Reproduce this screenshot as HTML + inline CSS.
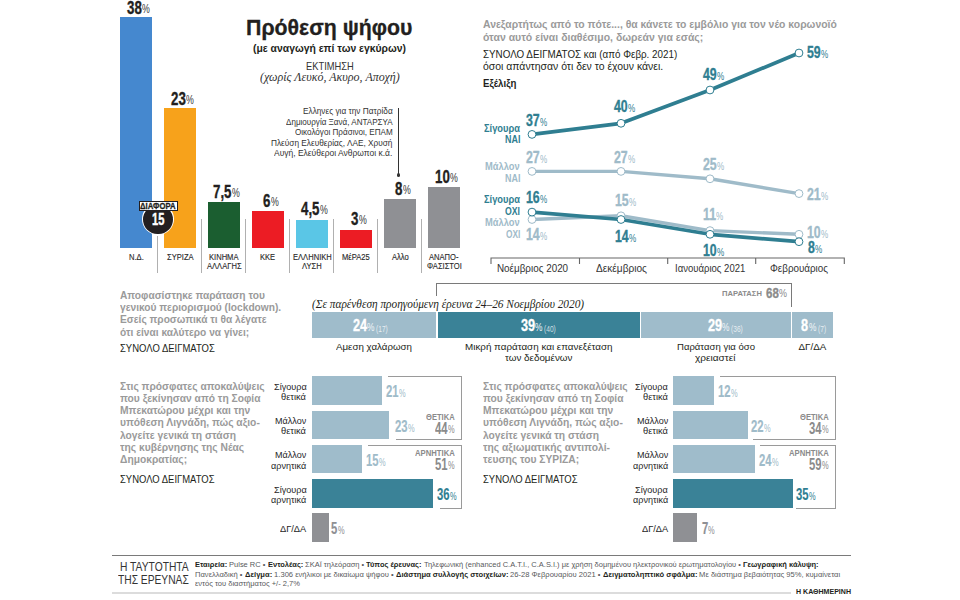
<!DOCTYPE html>
<html><head><meta charset="utf-8"><style>
html,body{margin:0;padding:0;background:#fff;}
body{width:960px;height:600px;position:relative;overflow:hidden;font-family:"Liberation Sans",sans-serif;}
.t{position:absolute;white-space:pre;transform-origin:0 0;}
.r{position:absolute;}
</style></head><body>
<div class="r" style="left:120.00px;top:17.14px;width:32.00px;height:230.66px;background:#4588cf;"></div>
<div class="r" style="left:157.30px;top:235.50px;width:1.20px;height:37.20px;background:#b0b0b0;"></div>
<div class="r" style="left:164.00px;top:108.19px;width:32.00px;height:139.61px;background:#f7a21b;"></div>
<div class="r" style="left:201.30px;top:219.00px;width:1.20px;height:53.70px;background:#b0b0b0;"></div>
<div class="r" style="left:208.00px;top:202.28px;width:32.00px;height:45.53px;background:#1b5e30;"></div>
<div class="r" style="left:245.30px;top:219.00px;width:1.20px;height:53.70px;background:#b0b0b0;"></div>
<div class="r" style="left:252.00px;top:211.38px;width:32.00px;height:36.42px;background:#ec1c24;"></div>
<div class="r" style="left:289.30px;top:219.00px;width:1.20px;height:53.70px;background:#b0b0b0;"></div>
<div class="r" style="left:296.00px;top:220.49px;width:32.00px;height:27.32px;background:#5ac6e6;"></div>
<div class="r" style="left:333.30px;top:219.00px;width:1.20px;height:53.70px;background:#b0b0b0;"></div>
<div class="r" style="left:340.00px;top:229.59px;width:32.00px;height:18.21px;background:#ec1c24;"></div>
<div class="r" style="left:377.30px;top:219.00px;width:1.20px;height:53.70px;background:#b0b0b0;"></div>
<div class="r" style="left:384.00px;top:199.24px;width:32.00px;height:48.56px;background:#8f9094;"></div>
<div class="r" style="left:421.30px;top:219.00px;width:1.20px;height:53.70px;background:#b0b0b0;"></div>
<div class="r" style="left:428.00px;top:187.10px;width:32.00px;height:60.70px;background:#8f9094;"></div>
<div class="r" style="left:142px;top:203.1px;width:32px;height:32px;border-radius:50%;background:#fff"></div>
<div class="r" style="left:143.4px;top:204.5px;width:29.2px;height:29.2px;border-radius:50%;background:#231f20"></div>
<div class="r" style="left:138.6px;top:201.2px;width:39.1px;height:10.1px;background:#fff;box-sizing:border-box;border:1px solid #231f20"></div>
<div class="r" style="left:398.00px;top:108.20px;width:1.00px;height:67.00px;background:#333;"></div>
<div class="r" style="left:396.6px;top:173.4px;width:3.8px;height:3.8px;border-radius:50%;background:#333"></div>
<svg class="r" style="left:0;top:0" width="960" height="600" viewBox="0 0 960 600"><polyline points="532.0,171.40 621.0,171.40 710.0,178.80 799.0,193.60" fill="none" stroke="#9fbbc9" stroke-width="3.4" stroke-linejoin="round"/><circle cx="532.0" cy="171.40" r="3.9" fill="#fff" stroke="#9fbbc9" stroke-width="1"/><circle cx="621.0" cy="171.40" r="3.9" fill="#fff" stroke="#9fbbc9" stroke-width="1"/><circle cx="710.0" cy="178.80" r="3.9" fill="#fff" stroke="#9fbbc9" stroke-width="1"/><circle cx="799.0" cy="193.60" r="3.9" fill="#fff" stroke="#9fbbc9" stroke-width="1"/><polyline points="532.0,219.50 621.0,215.80 710.0,230.60 799.0,234.30" fill="none" stroke="#9fbbc9" stroke-width="3.4" stroke-linejoin="round"/><circle cx="532.0" cy="219.50" r="3.9" fill="#fff" stroke="#9fbbc9" stroke-width="1"/><circle cx="621.0" cy="215.80" r="3.9" fill="#fff" stroke="#9fbbc9" stroke-width="1"/><circle cx="710.0" cy="230.60" r="3.9" fill="#fff" stroke="#9fbbc9" stroke-width="1"/><circle cx="799.0" cy="234.30" r="3.9" fill="#fff" stroke="#9fbbc9" stroke-width="1"/><polyline points="532.0,134.40 621.0,123.30 710.0,90.00 799.0,53.00" fill="none" stroke="#2f7e91" stroke-width="3.7" stroke-linejoin="round"/><circle cx="532.0" cy="134.40" r="3.9" fill="#fff" stroke="#2f7e91" stroke-width="1"/><circle cx="621.0" cy="123.30" r="3.9" fill="#fff" stroke="#2f7e91" stroke-width="1"/><circle cx="710.0" cy="90.00" r="3.9" fill="#fff" stroke="#2f7e91" stroke-width="1"/><circle cx="799.0" cy="53.00" r="3.9" fill="#fff" stroke="#2f7e91" stroke-width="1"/><polyline points="532.0,212.10 621.0,219.50 710.0,234.30 799.0,241.70" fill="none" stroke="#2f7e91" stroke-width="3.7" stroke-linejoin="round"/><circle cx="532.0" cy="212.10" r="3.9" fill="#fff" stroke="#2f7e91" stroke-width="1"/><circle cx="621.0" cy="219.50" r="3.9" fill="#fff" stroke="#2f7e91" stroke-width="1"/><circle cx="710.0" cy="234.30" r="3.9" fill="#fff" stroke="#2f7e91" stroke-width="1"/><circle cx="799.0" cy="241.70" r="3.9" fill="#fff" stroke="#2f7e91" stroke-width="1"/><path d="M491,264V258H844.3V264 M579.5,258V264 M667.7,258V264 M755.7,258V264" fill="none" stroke="#666" stroke-width="1.1"/></svg>
<div class="r" style="left:436.20px;top:282.90px;width:355.60px;height:1.00px;background:#7a7a7a;"></div>
<div class="r" style="left:436.20px;top:282.90px;width:1.00px;height:12.70px;background:#7a7a7a;"></div>
<div class="r" style="left:790.80px;top:282.90px;width:1.00px;height:24.40px;background:#7a7a7a;"></div>
<div class="r" style="left:312.30px;top:312.30px;width:124.10px;height:25.40px;background:#9fbccb;"></div>
<div class="r" style="left:437.90px;top:312.30px;width:201.80px;height:25.40px;background:#3a8297;"></div>
<div class="r" style="left:641.10px;top:312.30px;width:149.80px;height:25.40px;background:#9fbccb;"></div>
<div class="r" style="left:792.30px;top:312.30px;width:40.60px;height:25.40px;background:#9fbccb;"></div>
<div class="r" style="left:312.00px;top:376.20px;width:70.35px;height:28.60px;background:#9fbccb;"></div>
<div class="r" style="left:312.00px;top:410.50px;width:77.05px;height:28.60px;background:#9fbccb;"></div>
<div class="r" style="left:312.00px;top:444.80px;width:50.25px;height:28.60px;background:#9fbccb;"></div>
<div class="r" style="left:312.00px;top:479.10px;width:120.60px;height:28.60px;background:#3a8297;"></div>
<div class="r" style="left:312.00px;top:513.40px;width:16.75px;height:28.60px;background:#8f9094;"></div>
<div class="r" style="left:387.70px;top:375.60px;width:74.50px;height:1.30px;background:#9a9a9a;"></div>
<div class="r" style="left:460.90px;top:375.60px;width:1.30px;height:64.40px;background:#9a9a9a;"></div>
<div class="r" style="left:395.60px;top:438.70px;width:66.60px;height:1.30px;background:#9a9a9a;"></div>
<div class="r" style="left:368.20px;top:444.70px;width:94.00px;height:1.30px;background:#9a9a9a;"></div>
<div class="r" style="left:460.90px;top:444.70px;width:1.30px;height:64.40px;background:#9a9a9a;"></div>
<div class="r" style="left:440.30px;top:507.80px;width:21.90px;height:1.30px;background:#9a9a9a;"></div>
<div class="r" style="left:673.30px;top:376.20px;width:40.92px;height:28.60px;background:#9fbccb;"></div>
<div class="r" style="left:673.30px;top:410.50px;width:75.02px;height:28.60px;background:#9fbccb;"></div>
<div class="r" style="left:673.30px;top:444.80px;width:81.84px;height:28.60px;background:#9fbccb;"></div>
<div class="r" style="left:673.30px;top:479.10px;width:119.35px;height:28.60px;background:#3a8297;"></div>
<div class="r" style="left:673.30px;top:513.40px;width:23.87px;height:28.60px;background:#8f9094;"></div>
<div class="r" style="left:720.30px;top:375.60px;width:115.70px;height:1.30px;background:#9a9a9a;"></div>
<div class="r" style="left:834.70px;top:375.60px;width:1.30px;height:64.40px;background:#9a9a9a;"></div>
<div class="r" style="left:752.75px;top:438.70px;width:83.25px;height:1.30px;background:#9a9a9a;"></div>
<div class="r" style="left:760.00px;top:444.70px;width:76.00px;height:1.30px;background:#9a9a9a;"></div>
<div class="r" style="left:834.70px;top:444.70px;width:1.30px;height:64.40px;background:#9a9a9a;"></div>
<div class="r" style="left:796.25px;top:507.80px;width:39.75px;height:1.30px;background:#9a9a9a;"></div>
<div class="r" style="left:112.30px;top:554.50px;width:739.00px;height:1.00px;background:#7a7a7a;"></div>
<div class="r" style="left:112.30px;top:592.20px;width:679.00px;height:2.00px;background:#dcdcdc;"></div>
<div class="t" style="left:127.09px;top:-2.09px;font-size:19.00px;line-height:19.00px;color:#231f20;font-weight:700;transform:scaleX(0.7000);-webkit-text-stroke:0.35px #231f20;">38</div>
<div class="t" style="left:142.30px;top:3.38px;font-size:12.54px;line-height:12.54px;color:#333;transform:scaleX(0.7000);">%</div>
<div class="t" style="left:128.62px;top:251.87px;font-size:9.60px;line-height:9.60px;color:#262626;transform:scaleX(0.7900);-webkit-text-stroke:0.12px #262626;">Ν.Δ.</div>
<div class="t" style="left:171.09px;top:88.91px;font-size:19.00px;line-height:19.00px;color:#231f20;font-weight:700;transform:scaleX(0.7000);-webkit-text-stroke:0.35px #231f20;">23</div>
<div class="t" style="left:186.30px;top:94.38px;font-size:12.54px;line-height:12.54px;color:#333;transform:scaleX(0.7000);">%</div>
<div class="t" style="left:166.70px;top:251.87px;font-size:9.60px;line-height:9.60px;color:#262626;transform:scaleX(0.7900);-webkit-text-stroke:0.12px #262626;">ΣΥΡΙΖΑ</div>
<div class="t" style="left:213.24px;top:181.91px;font-size:19.00px;line-height:19.00px;color:#231f20;font-weight:700;transform:scaleX(0.7000);-webkit-text-stroke:0.35px #231f20;">7,5</div>
<div class="t" style="left:232.15px;top:187.38px;font-size:12.54px;line-height:12.54px;color:#333;transform:scaleX(0.7000);">%</div>
<div class="t" style="left:209.25px;top:251.87px;font-size:9.60px;line-height:9.60px;color:#262626;transform:scaleX(0.7900);-webkit-text-stroke:0.12px #262626;">ΚΙΝΗΜΑ</div>
<div class="t" style="left:206.70px;top:260.87px;font-size:9.60px;line-height:9.60px;color:#262626;transform:scaleX(0.7900);-webkit-text-stroke:0.12px #262626;">ΑΛΛΑΓΗΣ</div>
<div class="t" style="left:262.79px;top:190.91px;font-size:19.00px;line-height:19.00px;color:#231f20;font-weight:700;transform:scaleX(0.7000);-webkit-text-stroke:0.35px #231f20;">6</div>
<div class="t" style="left:270.61px;top:196.38px;font-size:12.54px;line-height:12.54px;color:#333;transform:scaleX(0.7000);">%</div>
<div class="t" style="left:260.41px;top:251.87px;font-size:9.60px;line-height:9.60px;color:#262626;transform:scaleX(0.7900);-webkit-text-stroke:0.12px #262626;">ΚΚΕ</div>
<div class="t" style="left:301.24px;top:198.91px;font-size:19.00px;line-height:19.00px;color:#231f20;font-weight:700;transform:scaleX(0.7000);-webkit-text-stroke:0.35px #231f20;">4,5</div>
<div class="t" style="left:320.15px;top:204.38px;font-size:12.54px;line-height:12.54px;color:#333;transform:scaleX(0.7000);">%</div>
<div class="t" style="left:292.61px;top:251.87px;font-size:9.60px;line-height:9.60px;color:#262626;transform:scaleX(0.7900);-webkit-text-stroke:0.12px #262626;">ΕΛΛΗΝΙΚΗ</div>
<div class="t" style="left:302.14px;top:260.87px;font-size:9.60px;line-height:9.60px;color:#262626;transform:scaleX(0.7900);-webkit-text-stroke:0.12px #262626;">ΛΥΣΗ</div>
<div class="t" style="left:350.79px;top:208.91px;font-size:19.00px;line-height:19.00px;color:#231f20;font-weight:700;transform:scaleX(0.7000);-webkit-text-stroke:0.35px #231f20;">3</div>
<div class="t" style="left:358.61px;top:214.38px;font-size:12.54px;line-height:12.54px;color:#333;transform:scaleX(0.7000);">%</div>
<div class="t" style="left:342.16px;top:251.87px;font-size:9.60px;line-height:9.60px;color:#262626;transform:scaleX(0.7900);-webkit-text-stroke:0.12px #262626;">ΜέΡΑ25</div>
<div class="t" style="left:394.79px;top:178.91px;font-size:19.00px;line-height:19.00px;color:#231f20;font-weight:700;transform:scaleX(0.7000);-webkit-text-stroke:0.35px #231f20;">8</div>
<div class="t" style="left:402.61px;top:184.38px;font-size:12.54px;line-height:12.54px;color:#333;transform:scaleX(0.7000);">%</div>
<div class="t" style="left:391.63px;top:251.87px;font-size:9.60px;line-height:9.60px;color:#262626;transform:scaleX(0.7900);-webkit-text-stroke:0.12px #262626;">Αλλο</div>
<div class="t" style="left:435.09px;top:166.91px;font-size:19.00px;line-height:19.00px;color:#231f20;font-weight:700;transform:scaleX(0.7000);-webkit-text-stroke:0.35px #231f20;">10</div>
<div class="t" style="left:450.30px;top:172.38px;font-size:12.54px;line-height:12.54px;color:#333;transform:scaleX(0.7000);">%</div>
<div class="t" style="left:429.25px;top:251.87px;font-size:9.60px;line-height:9.60px;color:#262626;transform:scaleX(0.7900);-webkit-text-stroke:0.12px #262626;">ΑΝΑΠΟ-</div>
<div class="t" style="left:426.56px;top:260.87px;font-size:9.60px;line-height:9.60px;color:#262626;transform:scaleX(0.7900);-webkit-text-stroke:0.12px #262626;">ΦΑΣΙΣΤΟΙ</div>
<div class="t" style="left:140.40px;top:202.21px;font-size:9.20px;line-height:9.20px;color:#231f20;font-weight:700;transform:scaleX(0.8402);-webkit-text-stroke:0.30px #231f20;">ΔΙΑΦΟΡΑ</div>
<div class="t" style="left:152.10px;top:211.69px;font-size:16.90px;line-height:16.90px;color:#fff;font-weight:700;transform:scaleX(0.6596);-webkit-text-stroke:0.40px #fff;">15</div>
<div class="t" style="left:246.05px;top:17.88px;font-size:21.40px;line-height:21.40px;color:#231f20;font-weight:700;transform:scaleX(0.9959);-webkit-text-stroke:0.30px #231f20;">Πρόθεση ψήφου</div>
<div class="t" style="left:253.00px;top:42.69px;font-size:11.00px;line-height:11.00px;color:#231f20;font-weight:700;transform:scaleX(0.9433);">(με αναγωγή επί των εγκύρων)</div>
<div class="t" style="left:305.60px;top:60.77px;font-size:10.90px;line-height:10.90px;color:#333;transform:scaleX(0.8568);">ΕΚΤΙΜΗΣΗ</div>
<div class="t" style="left:259.65px;top:72.37px;font-size:11.50px;line-height:11.50px;color:#333;font-family:'Liberation Serif',serif;font-style:italic;transform:scaleX(1.0432);">(χωρίς Λευκό, Ακυρο, Αποχή)</div>
<div class="t" style="left:302.80px;top:106.55px;font-size:8.80px;line-height:8.80px;color:#333;transform:scaleX(0.9389);">Ελληνες για την Πατρίδα</div>
<div class="t" style="left:285.70px;top:117.55px;font-size:8.80px;line-height:8.80px;color:#333;transform:scaleX(0.9182);">Δημιουργία Ξανά, ΑΝΤΑΡΣΥΑ</div>
<div class="t" style="left:294.70px;top:127.55px;font-size:8.80px;line-height:8.80px;color:#333;transform:scaleX(0.9220);">Οικολόγοι Πράσινοι, ΕΠΑΜ</div>
<div class="t" style="left:271.00px;top:138.55px;font-size:8.80px;line-height:8.80px;color:#333;transform:scaleX(0.9397);">Πλεύση Ελευθερίας, ΛΑΕ, Χρυσή</div>
<div class="t" style="left:274.20px;top:148.55px;font-size:8.80px;line-height:8.80px;color:#333;transform:scaleX(0.9627);">Αυγή, Ελεύθεροι Ανθρωποι κ.ά.</div>
<div class="t" style="left:483.30px;top:19.11px;font-size:10.50px;line-height:10.50px;color:#9a9a9a;font-weight:700;transform:scaleX(0.9914);">Ανεξαρτήτως από το πότε..., θα κάνετε το εμβόλιο για τον νέο κορωνοϊό</div>
<div class="t" style="left:483.30px;top:32.11px;font-size:10.50px;line-height:10.50px;color:#9a9a9a;font-weight:700;transform:scaleX(0.9973);">όταν αυτό είναι διαθέσιμο, δωρεάν για εσάς;</div>
<div class="t" style="left:483.30px;top:49.11px;font-size:10.50px;line-height:10.50px;color:#231f20;transform:scaleX(0.9354);">ΣΥΝΟΛΟ ΔΕΙΓΜΑΤΟΣ και (από Φεβρ. 2021)</div>
<div class="t" style="left:483.30px;top:61.11px;font-size:10.50px;line-height:10.50px;color:#231f20;transform:scaleX(0.9941);">όσοι απάντησαν ότι δεν το έχουν κάνει.</div>
<div class="t" style="left:483.30px;top:79.36px;font-size:10.20px;line-height:10.20px;color:#231f20;font-weight:700;transform:scaleX(0.9481);">Εξέλιξη</div>
<div class="t" style="left:496.65px;top:263.11px;font-size:10.50px;line-height:10.50px;color:#333;transform:scaleX(0.9396);">Νοέμβριος 2020</div>
<div class="t" style="left:596.00px;top:263.11px;font-size:10.50px;line-height:10.50px;color:#333;transform:scaleX(0.9637);">Δεκέμβριος</div>
<div class="t" style="left:675.45px;top:263.11px;font-size:10.50px;line-height:10.50px;color:#333;transform:scaleX(0.9086);">Ιανουάριος 2021</div>
<div class="t" style="left:769.90px;top:263.11px;font-size:10.50px;line-height:10.50px;color:#333;transform:scaleX(0.9366);">Φεβρουάριος</div>
<div class="t" style="left:484.00px;top:122.77px;font-size:10.90px;line-height:10.90px;color:#2f7e91;font-weight:700;transform:scaleX(0.8556);">Σίγουρα</div>
<div class="t" style="left:504.60px;top:133.77px;font-size:10.90px;line-height:10.90px;color:#2f7e91;font-weight:700;transform:scaleX(0.8204);">ΝΑΙ</div>
<div class="t" style="left:485.30px;top:160.77px;font-size:10.90px;line-height:10.90px;color:#9fbbc9;font-weight:700;transform:scaleX(0.8570);">Μάλλον</div>
<div class="t" style="left:504.60px;top:172.77px;font-size:10.90px;line-height:10.90px;color:#9fbbc9;font-weight:700;transform:scaleX(0.8204);">ΝΑΙ</div>
<div class="t" style="left:484.00px;top:193.77px;font-size:10.90px;line-height:10.90px;color:#2f7e91;font-weight:700;transform:scaleX(0.8556);">Σίγουρα</div>
<div class="t" style="left:505.00px;top:205.77px;font-size:10.90px;line-height:10.90px;color:#2f7e91;font-weight:700;transform:scaleX(0.7989);">ΟΧΙ</div>
<div class="t" style="left:485.30px;top:216.77px;font-size:10.90px;line-height:10.90px;color:#9fbbc9;font-weight:700;transform:scaleX(0.8570);">Μάλλον</div>
<div class="t" style="left:505.60px;top:228.77px;font-size:10.90px;line-height:10.90px;color:#9fbbc9;font-weight:700;transform:scaleX(0.7669);">ΟΧΙ</div>
<div class="t" style="left:526.00px;top:112.09px;font-size:16.43px;line-height:16.43px;color:#2f7e91;font-weight:700;transform:scaleX(0.7500);-webkit-text-stroke:0.35px #2f7e91;">37</div>
<div class="t" style="left:540.16px;top:116.82px;font-size:10.84px;line-height:10.84px;color:#2f7e91;transform:scaleX(0.7500);">%</div>
<div class="t" style="left:614.10px;top:98.09px;font-size:16.43px;line-height:16.43px;color:#2f7e91;font-weight:700;transform:scaleX(0.7500);-webkit-text-stroke:0.35px #2f7e91;">40</div>
<div class="t" style="left:628.26px;top:102.82px;font-size:10.84px;line-height:10.84px;color:#2f7e91;transform:scaleX(0.7500);">%</div>
<div class="t" style="left:702.80px;top:66.09px;font-size:16.43px;line-height:16.43px;color:#2f7e91;font-weight:700;transform:scaleX(0.7500);-webkit-text-stroke:0.35px #2f7e91;">49</div>
<div class="t" style="left:716.96px;top:70.82px;font-size:10.84px;line-height:10.84px;color:#2f7e91;transform:scaleX(0.7500);">%</div>
<div class="t" style="left:806.90px;top:44.09px;font-size:16.43px;line-height:16.43px;color:#2f7e91;font-weight:700;transform:scaleX(0.7500);-webkit-text-stroke:0.35px #2f7e91;">59</div>
<div class="t" style="left:821.06px;top:48.82px;font-size:10.84px;line-height:10.84px;color:#2f7e91;transform:scaleX(0.7500);">%</div>
<div class="t" style="left:526.00px;top:149.09px;font-size:16.43px;line-height:16.43px;color:#9fbbc9;font-weight:700;transform:scaleX(0.7500);-webkit-text-stroke:0.35px #9fbbc9;">27</div>
<div class="t" style="left:540.16px;top:153.82px;font-size:10.84px;line-height:10.84px;color:#9fbbc9;transform:scaleX(0.7500);">%</div>
<div class="t" style="left:614.10px;top:149.09px;font-size:16.43px;line-height:16.43px;color:#9fbbc9;font-weight:700;transform:scaleX(0.7500);-webkit-text-stroke:0.35px #9fbbc9;">27</div>
<div class="t" style="left:628.26px;top:153.82px;font-size:10.84px;line-height:10.84px;color:#9fbbc9;transform:scaleX(0.7500);">%</div>
<div class="t" style="left:702.80px;top:156.09px;font-size:16.43px;line-height:16.43px;color:#9fbbc9;font-weight:700;transform:scaleX(0.7500);-webkit-text-stroke:0.35px #9fbbc9;">25</div>
<div class="t" style="left:716.96px;top:160.82px;font-size:10.84px;line-height:10.84px;color:#9fbbc9;transform:scaleX(0.7500);">%</div>
<div class="t" style="left:807.20px;top:186.09px;font-size:16.43px;line-height:16.43px;color:#9fbbc9;font-weight:700;transform:scaleX(0.7500);-webkit-text-stroke:0.35px #9fbbc9;">21</div>
<div class="t" style="left:821.36px;top:190.82px;font-size:10.84px;line-height:10.84px;color:#9fbbc9;transform:scaleX(0.7500);">%</div>
<div class="t" style="left:526.00px;top:189.09px;font-size:16.43px;line-height:16.43px;color:#2f7e91;font-weight:700;transform:scaleX(0.7500);-webkit-text-stroke:0.35px #2f7e91;">16</div>
<div class="t" style="left:540.16px;top:193.82px;font-size:10.84px;line-height:10.84px;color:#2f7e91;transform:scaleX(0.7500);">%</div>
<div class="t" style="left:614.70px;top:228.09px;font-size:16.43px;line-height:16.43px;color:#2f7e91;font-weight:700;transform:scaleX(0.7500);-webkit-text-stroke:0.35px #2f7e91;">14</div>
<div class="t" style="left:628.86px;top:232.82px;font-size:10.84px;line-height:10.84px;color:#2f7e91;transform:scaleX(0.7500);">%</div>
<div class="t" style="left:702.80px;top:242.09px;font-size:16.43px;line-height:16.43px;color:#2f7e91;font-weight:700;transform:scaleX(0.7500);-webkit-text-stroke:0.35px #2f7e91;">10</div>
<div class="t" style="left:716.96px;top:246.82px;font-size:10.84px;line-height:10.84px;color:#2f7e91;transform:scaleX(0.7500);">%</div>
<div class="t" style="left:807.90px;top:239.09px;font-size:16.43px;line-height:16.43px;color:#2f7e91;font-weight:700;transform:scaleX(0.7500);-webkit-text-stroke:0.35px #2f7e91;">8</div>
<div class="t" style="left:815.20px;top:243.82px;font-size:10.84px;line-height:10.84px;color:#2f7e91;transform:scaleX(0.7500);">%</div>
<div class="t" style="left:526.00px;top:226.09px;font-size:16.43px;line-height:16.43px;color:#9fbbc9;font-weight:700;transform:scaleX(0.7500);-webkit-text-stroke:0.35px #9fbbc9;">14</div>
<div class="t" style="left:540.16px;top:230.82px;font-size:10.84px;line-height:10.84px;color:#9fbbc9;transform:scaleX(0.7500);">%</div>
<div class="t" style="left:614.70px;top:192.09px;font-size:16.43px;line-height:16.43px;color:#9fbbc9;font-weight:700;transform:scaleX(0.7500);-webkit-text-stroke:0.35px #9fbbc9;">15</div>
<div class="t" style="left:628.86px;top:196.82px;font-size:10.84px;line-height:10.84px;color:#9fbbc9;transform:scaleX(0.7500);">%</div>
<div class="t" style="left:702.80px;top:206.09px;font-size:16.43px;line-height:16.43px;color:#9fbbc9;font-weight:700;transform:scaleX(0.7500);-webkit-text-stroke:0.35px #9fbbc9;">11</div>
<div class="t" style="left:716.28px;top:210.82px;font-size:10.84px;line-height:10.84px;color:#9fbbc9;transform:scaleX(0.7500);">%</div>
<div class="t" style="left:807.20px;top:224.09px;font-size:16.43px;line-height:16.43px;color:#9fbbc9;font-weight:700;transform:scaleX(0.7500);-webkit-text-stroke:0.35px #9fbbc9;">10</div>
<div class="t" style="left:821.36px;top:228.82px;font-size:10.84px;line-height:10.84px;color:#9fbbc9;transform:scaleX(0.7500);">%</div>
<div class="t" style="left:120.40px;top:290.11px;font-size:10.50px;line-height:10.50px;color:#9a9a9a;font-weight:700;transform:scaleX(0.9700);">Αποφασίστηκε παράταση του</div>
<div class="t" style="left:120.40px;top:302.11px;font-size:10.50px;line-height:10.50px;color:#9a9a9a;font-weight:700;transform:scaleX(0.9700);">γενικού περιορισμού (lockdown).</div>
<div class="t" style="left:120.40px;top:314.11px;font-size:10.50px;line-height:10.50px;color:#9a9a9a;font-weight:700;transform:scaleX(0.9700);">Εσείς προσωπικά τι θα λέγατε</div>
<div class="t" style="left:120.40px;top:327.11px;font-size:10.50px;line-height:10.50px;color:#9a9a9a;font-weight:700;transform:scaleX(0.9700);">ότι είναι καλύτερο να γίνει;</div>
<div class="t" style="left:120.40px;top:343.11px;font-size:10.50px;line-height:10.50px;color:#231f20;transform:scaleX(0.9035);">ΣΥΝΟΛΟ ΔΕΙΓΜΑΤΟΣ</div>
<div class="t" style="left:312.30px;top:299.37px;font-size:11.50px;line-height:11.50px;color:#231f20;font-family:'Liberation Serif',serif;font-style:italic;transform:scaleX(0.9854);">(Σε παρένθεση προηγούμενη έρευνα 24–26 Νοεμβρίου 2020)</div>
<div class="t" style="left:721.60px;top:290.31px;font-size:7.90px;line-height:7.90px;color:#8b8b8b;font-weight:700;transform:scaleX(0.9607);">ΠΑΡΑΤΑΣΗ</div>
<div class="t" style="left:766.00px;top:285.18px;font-size:15.14px;line-height:15.14px;color:#8b8b8b;font-weight:700;transform:scaleX(0.7600);-webkit-text-stroke:0.35px #8b8b8b;">68</div>
<div class="t" style="left:779.26px;top:288.00px;font-size:11.81px;line-height:11.81px;color:#8b8b8b;transform:scaleX(0.7600);">%</div>
<div class="t" style="left:352.50px;top:317.49px;font-size:17.14px;line-height:17.14px;color:#fff;font-weight:700;transform:scaleX(0.7400);-webkit-text-stroke:0.35px #fff;">24</div>
<div class="t" style="left:367.05px;top:322.42px;font-size:11.31px;line-height:11.31px;color:#f2f6f8;transform:scaleX(0.7400);">%</div>
<div class="t" style="left:375.98px;top:324.02px;font-size:9.43px;line-height:9.43px;color:rgba(255,255,255,0.75);transform:scaleX(0.7030);">(17)</div>
<div class="t" style="left:520.80px;top:317.49px;font-size:17.14px;line-height:17.14px;color:#fff;font-weight:700;transform:scaleX(0.7400);-webkit-text-stroke:0.35px #fff;">39</div>
<div class="t" style="left:535.35px;top:322.42px;font-size:11.31px;line-height:11.31px;color:#f2f6f8;transform:scaleX(0.7400);">%</div>
<div class="t" style="left:544.28px;top:324.02px;font-size:9.43px;line-height:9.43px;color:rgba(255,255,255,0.75);transform:scaleX(0.7030);">(40)</div>
<div class="t" style="left:707.50px;top:317.49px;font-size:17.14px;line-height:17.14px;color:#fff;font-weight:700;transform:scaleX(0.7400);-webkit-text-stroke:0.35px #fff;">29</div>
<div class="t" style="left:722.05px;top:322.42px;font-size:11.31px;line-height:11.31px;color:#f2f6f8;transform:scaleX(0.7400);">%</div>
<div class="t" style="left:730.98px;top:324.02px;font-size:9.43px;line-height:9.43px;color:rgba(255,255,255,0.75);transform:scaleX(0.7030);">(36)</div>
<div class="t" style="left:801.25px;top:317.49px;font-size:17.14px;line-height:17.14px;color:#fff;font-weight:700;transform:scaleX(0.7400);-webkit-text-stroke:0.35px #fff;">8</div>
<div class="t" style="left:808.75px;top:322.42px;font-size:11.31px;line-height:11.31px;color:#f2f6f8;transform:scaleX(0.7400);">%</div>
<div class="t" style="left:817.67px;top:324.02px;font-size:9.43px;line-height:9.43px;color:rgba(255,255,255,0.75);transform:scaleX(0.7030);">(7)</div>
<div class="t" style="left:336.30px;top:341.70px;font-size:9.80px;line-height:9.80px;color:#231f20;transform:scaleX(0.9940);">Αμεση χαλάρωση</div>
<div class="t" style="left:464.90px;top:341.70px;font-size:9.80px;line-height:9.80px;color:#231f20;transform:scaleX(1.0037);">Μικρή παράταση και επανεξέταση</div>
<div class="t" style="left:504.98px;top:352.70px;font-size:9.80px;line-height:9.80px;color:#231f20;transform:scaleX(1.0037);">των δεδομένων</div>
<div class="t" style="left:676.70px;top:341.70px;font-size:9.80px;line-height:9.80px;color:#231f20;transform:scaleX(0.9748);">Παράταση για όσο</div>
<div class="t" style="left:695.40px;top:352.70px;font-size:9.80px;line-height:9.80px;color:#231f20;transform:scaleX(1.0306);">χρειαστεί</div>
<div class="t" style="left:798.52px;top:341.70px;font-size:9.80px;line-height:9.80px;color:#231f20;">ΔΓ/ΔΑ</div>
<div class="t" style="left:120.40px;top:381.11px;font-size:10.50px;line-height:10.50px;color:#9a9a9a;font-weight:700;transform:scaleX(0.9778);">Στις πρόσφατες αποκαλύψεις</div>
<div class="t" style="left:120.40px;top:393.11px;font-size:10.50px;line-height:10.50px;color:#9a9a9a;font-weight:700;transform:scaleX(0.9778);">που ξεκίνησαν από τη Σοφία</div>
<div class="t" style="left:120.40px;top:405.11px;font-size:10.50px;line-height:10.50px;color:#9a9a9a;font-weight:700;transform:scaleX(0.9778);">Μπεκατώρου μέχρι και την</div>
<div class="t" style="left:120.40px;top:417.11px;font-size:10.50px;line-height:10.50px;color:#9a9a9a;font-weight:700;transform:scaleX(0.9778);">υπόθεση Λιγνάδη, πώς αξιο-</div>
<div class="t" style="left:120.40px;top:430.11px;font-size:10.50px;line-height:10.50px;color:#9a9a9a;font-weight:700;transform:scaleX(0.9778);">λογείτε γενικά τη στάση</div>
<div class="t" style="left:120.40px;top:442.11px;font-size:10.50px;line-height:10.50px;color:#9a9a9a;font-weight:700;transform:scaleX(0.9778);">της κυβέρνησης της Νέας</div>
<div class="t" style="left:120.40px;top:454.11px;font-size:10.50px;line-height:10.50px;color:#9a9a9a;font-weight:700;transform:scaleX(0.9778);">Δημοκρατίας;</div>
<div class="t" style="left:120.40px;top:474.11px;font-size:10.50px;line-height:10.50px;color:#231f20;transform:scaleX(0.9007);">ΣΥΝΟΛΟ ΔΕΙΓΜΑΤΟΣ</div>
<div class="t" style="left:386.10px;top:383.33px;font-size:16.14px;line-height:16.14px;color:#9fbbc9;font-weight:700;transform:scaleX(0.7000);-webkit-text-stroke:0.15px #9fbbc9;">21</div>
<div class="t" style="left:399.09px;top:387.98px;font-size:10.65px;line-height:10.65px;color:#9fbbc9;transform:scaleX(0.7000);">%</div>
<div class="t" style="left:273.50px;top:381.79px;font-size:9.70px;line-height:9.70px;color:#262626;transform:scaleX(0.9404);">Σίγουρα</div>
<div class="t" style="left:281.25px;top:391.79px;font-size:9.70px;line-height:9.70px;color:#262626;transform:scaleX(0.9599);">θετικά</div>
<div class="t" style="left:395.40px;top:418.33px;font-size:16.14px;line-height:16.14px;color:#9fbbc9;font-weight:700;transform:scaleX(0.7000);-webkit-text-stroke:0.15px #9fbbc9;">23</div>
<div class="t" style="left:408.39px;top:422.98px;font-size:10.65px;line-height:10.65px;color:#9fbbc9;transform:scaleX(0.7000);">%</div>
<div class="t" style="left:275.05px;top:415.79px;font-size:9.70px;line-height:9.70px;color:#262626;transform:scaleX(0.9317);">Μάλλον</div>
<div class="t" style="left:281.25px;top:425.79px;font-size:9.70px;line-height:9.70px;color:#262626;transform:scaleX(0.9599);">θετικά</div>
<div class="t" style="left:366.40px;top:452.33px;font-size:16.14px;line-height:16.14px;color:#9fbbc9;font-weight:700;transform:scaleX(0.7000);-webkit-text-stroke:0.15px #9fbbc9;">15</div>
<div class="t" style="left:379.39px;top:456.98px;font-size:10.65px;line-height:10.65px;color:#9fbbc9;transform:scaleX(0.7000);">%</div>
<div class="t" style="left:275.05px;top:449.79px;font-size:9.70px;line-height:9.70px;color:#262626;transform:scaleX(0.9317);">Μάλλον</div>
<div class="t" style="left:271.00px;top:460.79px;font-size:9.70px;line-height:9.70px;color:#262626;transform:scaleX(0.9351);">αρνητικά</div>
<div class="t" style="left:436.60px;top:486.33px;font-size:16.14px;line-height:16.14px;color:#2f7e91;font-weight:700;transform:scaleX(0.7000);-webkit-text-stroke:0.15px #2f7e91;">36</div>
<div class="t" style="left:449.59px;top:490.98px;font-size:10.65px;line-height:10.65px;color:#2f7e91;transform:scaleX(0.7000);">%</div>
<div class="t" style="left:273.50px;top:484.79px;font-size:9.70px;line-height:9.70px;color:#262626;transform:scaleX(0.9404);">Σίγουρα</div>
<div class="t" style="left:271.00px;top:494.79px;font-size:9.70px;line-height:9.70px;color:#262626;transform:scaleX(0.9351);">αρνητικά</div>
<div class="t" style="left:331.20px;top:520.33px;font-size:16.14px;line-height:16.14px;color:#8f9094;font-weight:700;transform:scaleX(0.7000);-webkit-text-stroke:0.15px #8f9094;">5</div>
<div class="t" style="left:337.90px;top:524.98px;font-size:10.65px;line-height:10.65px;color:#8f9094;transform:scaleX(0.7000);">%</div>
<div class="t" style="left:280.00px;top:525.38px;font-size:9.00px;line-height:9.00px;color:#262626;transform:scaleX(1.0301);">ΔΓ/ΔΑ</div>
<div class="t" style="left:482.70px;top:381.11px;font-size:10.50px;line-height:10.50px;color:#9a9a9a;font-weight:700;transform:scaleX(0.9778);">Στις πρόσφατες αποκαλύψεις</div>
<div class="t" style="left:482.70px;top:393.11px;font-size:10.50px;line-height:10.50px;color:#9a9a9a;font-weight:700;transform:scaleX(0.9778);">που ξεκίνησαν από τη Σοφία</div>
<div class="t" style="left:482.70px;top:405.11px;font-size:10.50px;line-height:10.50px;color:#9a9a9a;font-weight:700;transform:scaleX(0.9778);">Μπεκατώρου μέχρι και την</div>
<div class="t" style="left:482.70px;top:417.11px;font-size:10.50px;line-height:10.50px;color:#9a9a9a;font-weight:700;transform:scaleX(0.9778);">υπόθεση Λιγνάδη, πώς αξιο-</div>
<div class="t" style="left:482.70px;top:430.11px;font-size:10.50px;line-height:10.50px;color:#9a9a9a;font-weight:700;transform:scaleX(0.9778);">λογείτε γενικά τη στάση</div>
<div class="t" style="left:482.70px;top:442.11px;font-size:10.50px;line-height:10.50px;color:#9a9a9a;font-weight:700;transform:scaleX(0.9778);">της αξιωματικής αντιπολί-</div>
<div class="t" style="left:482.70px;top:454.11px;font-size:10.50px;line-height:10.50px;color:#9a9a9a;font-weight:700;transform:scaleX(0.9778);">τευσης του ΣΥΡΙΖΑ;</div>
<div class="t" style="left:482.70px;top:474.11px;font-size:10.50px;line-height:10.50px;color:#231f20;transform:scaleX(0.9007);">ΣΥΝΟΛΟ ΔΕΙΓΜΑΤΟΣ</div>
<div class="t" style="left:718.40px;top:383.33px;font-size:16.14px;line-height:16.14px;color:#9fbbc9;font-weight:700;transform:scaleX(0.7000);-webkit-text-stroke:0.15px #9fbbc9;">12</div>
<div class="t" style="left:731.39px;top:387.98px;font-size:10.65px;line-height:10.65px;color:#9fbbc9;transform:scaleX(0.7000);">%</div>
<div class="t" style="left:635.25px;top:381.79px;font-size:9.70px;line-height:9.70px;color:#262626;transform:scaleX(0.9404);">Σίγουρα</div>
<div class="t" style="left:643.00px;top:391.79px;font-size:9.70px;line-height:9.70px;color:#262626;transform:scaleX(0.9599);">θετικά</div>
<div class="t" style="left:751.25px;top:418.33px;font-size:16.14px;line-height:16.14px;color:#9fbbc9;font-weight:700;transform:scaleX(0.7000);-webkit-text-stroke:0.15px #9fbbc9;">22</div>
<div class="t" style="left:764.24px;top:422.98px;font-size:10.65px;line-height:10.65px;color:#9fbbc9;transform:scaleX(0.7000);">%</div>
<div class="t" style="left:636.80px;top:415.79px;font-size:9.70px;line-height:9.70px;color:#262626;transform:scaleX(0.9317);">Μάλλον</div>
<div class="t" style="left:643.00px;top:425.79px;font-size:9.70px;line-height:9.70px;color:#262626;transform:scaleX(0.9599);">θετικά</div>
<div class="t" style="left:759.30px;top:452.33px;font-size:16.14px;line-height:16.14px;color:#9fbbc9;font-weight:700;transform:scaleX(0.7000);-webkit-text-stroke:0.15px #9fbbc9;">24</div>
<div class="t" style="left:772.29px;top:456.98px;font-size:10.65px;line-height:10.65px;color:#9fbbc9;transform:scaleX(0.7000);">%</div>
<div class="t" style="left:636.80px;top:449.79px;font-size:9.70px;line-height:9.70px;color:#262626;transform:scaleX(0.9317);">Μάλλον</div>
<div class="t" style="left:632.75px;top:460.79px;font-size:9.70px;line-height:9.70px;color:#262626;transform:scaleX(0.9351);">αρνητικά</div>
<div class="t" style="left:795.70px;top:486.33px;font-size:16.14px;line-height:16.14px;color:#2f7e91;font-weight:700;transform:scaleX(0.7000);-webkit-text-stroke:0.15px #2f7e91;">35</div>
<div class="t" style="left:808.69px;top:490.98px;font-size:10.65px;line-height:10.65px;color:#2f7e91;transform:scaleX(0.7000);">%</div>
<div class="t" style="left:635.25px;top:484.79px;font-size:9.70px;line-height:9.70px;color:#262626;transform:scaleX(0.9404);">Σίγουρα</div>
<div class="t" style="left:632.75px;top:494.79px;font-size:9.70px;line-height:9.70px;color:#262626;transform:scaleX(0.9351);">αρνητικά</div>
<div class="t" style="left:701.60px;top:520.33px;font-size:16.14px;line-height:16.14px;color:#8f9094;font-weight:700;transform:scaleX(0.7000);-webkit-text-stroke:0.15px #8f9094;">7</div>
<div class="t" style="left:708.30px;top:524.98px;font-size:10.65px;line-height:10.65px;color:#8f9094;transform:scaleX(0.7000);">%</div>
<div class="t" style="left:641.75px;top:525.38px;font-size:9.00px;line-height:9.00px;color:#262626;transform:scaleX(1.0301);">ΔΓ/ΔΑ</div>
<div class="t" style="left:426.40px;top:412.80px;font-size:8.50px;line-height:8.50px;color:#8b8b8b;font-weight:700;transform:scaleX(0.8906);">ΘΕΤΙΚΑ</div>
<div class="t" style="left:435.34px;top:420.69px;font-size:15.71px;line-height:15.71px;color:#8b8b8b;font-weight:700;transform:scaleX(0.7200);">44</div>
<div class="t" style="left:448.36px;top:425.22px;font-size:10.37px;line-height:10.37px;color:#8b8b8b;transform:scaleX(0.7200);">%</div>
<div class="t" style="left:415.20px;top:448.80px;font-size:8.50px;line-height:8.50px;color:#8b8b8b;font-weight:700;transform:scaleX(0.9063);">ΑΡΝΗΤΙΚΑ</div>
<div class="t" style="left:435.34px;top:456.69px;font-size:15.71px;line-height:15.71px;color:#8b8b8b;font-weight:700;transform:scaleX(0.7200);">51</div>
<div class="t" style="left:448.36px;top:461.22px;font-size:10.37px;line-height:10.37px;color:#8b8b8b;transform:scaleX(0.7200);">%</div>
<div class="t" style="left:799.90px;top:412.80px;font-size:8.50px;line-height:8.50px;color:#8b8b8b;font-weight:700;transform:scaleX(0.8906);">ΘΕΤΙΚΑ</div>
<div class="t" style="left:808.84px;top:420.69px;font-size:15.71px;line-height:15.71px;color:#8b8b8b;font-weight:700;transform:scaleX(0.7200);">34</div>
<div class="t" style="left:821.86px;top:425.22px;font-size:10.37px;line-height:10.37px;color:#8b8b8b;transform:scaleX(0.7200);">%</div>
<div class="t" style="left:788.70px;top:448.80px;font-size:8.50px;line-height:8.50px;color:#8b8b8b;font-weight:700;transform:scaleX(0.9063);">ΑΡΝΗΤΙΚΑ</div>
<div class="t" style="left:808.84px;top:456.69px;font-size:15.71px;line-height:15.71px;color:#8b8b8b;font-weight:700;transform:scaleX(0.7200);">59</div>
<div class="t" style="left:821.86px;top:461.22px;font-size:10.37px;line-height:10.37px;color:#8b8b8b;transform:scaleX(0.7200);">%</div>
<div class="t" style="left:119.60px;top:560.84px;font-size:12.00px;line-height:12.00px;color:#333;transform:scaleX(0.8563);">Η ΤΑΥΤΟΤΗΤΑ</div>
<div class="t" style="left:117.50px;top:573.84px;font-size:12.00px;line-height:12.00px;color:#333;transform:scaleX(0.8545);">ΤΗΣ ΕΡΕΥΝΑΣ</div>
<div class="t" style="left:195.00px;top:560.57px;font-size:7.60px;line-height:7.60px;color:#231f20;font-weight:700;transform:scaleX(0.9847);">Εταιρεία:</div>
<div class="t" style="left:227.16px;top:560.57px;font-size:7.60px;line-height:7.60px;color:#58595b;transform:scaleX(0.9847);"> Pulse RC • </div>
<div class="t" style="left:267.63px;top:560.57px;font-size:7.60px;line-height:7.60px;color:#231f20;font-weight:700;transform:scaleX(0.9847);">Εντολέας:</div>
<div class="t" style="left:303.01px;top:560.57px;font-size:7.60px;line-height:7.60px;color:#58595b;transform:scaleX(0.9847);"> ΣΚΑΪ τηλεόραση • </div>
<div class="t" style="left:366.36px;top:560.57px;font-size:7.60px;line-height:7.60px;color:#231f20;font-weight:700;transform:scaleX(0.9847);">Τύπος έρευνας:</div>
<div class="t" style="left:421.86px;top:560.57px;font-size:7.60px;line-height:7.60px;color:#58595b;transform:scaleX(0.9847);"> Τηλεφωνική (enhanced C.A.T.I., C.A.S.I.) με χρήση δομημένου ηλεκτρονικού ερωτηματολογίου • </div>
<div class="t" style="left:743.04px;top:560.57px;font-size:7.60px;line-height:7.60px;color:#231f20;font-weight:700;transform:scaleX(0.9847);">Γεωγραφική κάλυψη:</div>
<div class="t" style="left:195.00px;top:570.57px;font-size:7.60px;line-height:7.60px;color:#58595b;transform:scaleX(0.9969);">Πανελλαδική • </div>
<div class="t" style="left:244.63px;top:570.57px;font-size:7.60px;line-height:7.60px;color:#231f20;font-weight:700;transform:scaleX(0.9969);">Δείγμα:</div>
<div class="t" style="left:271.80px;top:570.57px;font-size:7.60px;line-height:7.60px;color:#58595b;transform:scaleX(0.9969);"> 1.306 ενήλικοι με δικαίωμα ψήφου • </div>
<div class="t" style="left:395.54px;top:570.57px;font-size:7.60px;line-height:7.60px;color:#231f20;font-weight:700;transform:scaleX(0.9969);">Διάστημα συλλογής στοιχείων:</div>
<div class="t" style="left:508.07px;top:570.57px;font-size:7.60px;line-height:7.60px;color:#58595b;transform:scaleX(0.9969);"> 26-28 Φεβρουαρίου 2021 • </div>
<div class="t" style="left:602.66px;top:570.57px;font-size:7.60px;line-height:7.60px;color:#231f20;font-weight:700;transform:scaleX(0.9969);">Δειγματοληπτικό σφάλμα:</div>
<div class="t" style="left:697.24px;top:570.57px;font-size:7.60px;line-height:7.60px;color:#58595b;transform:scaleX(0.9969);"> Με διάστημα βεβαιότητας 95%, κυμαίνεται</div>
<div class="t" style="left:195.00px;top:579.57px;font-size:7.60px;line-height:7.60px;color:#58595b;transform:scaleX(0.9908);">εντός του διαστήματος +/- 2,7%</div>
<div class="t" style="left:795.80px;top:588.23px;font-size:8.00px;line-height:8.00px;color:#231f20;font-weight:700;transform:scaleX(0.8807);">Η ΚΑΘΗΜΕΡΙΝΗ</div>
</body></html>
